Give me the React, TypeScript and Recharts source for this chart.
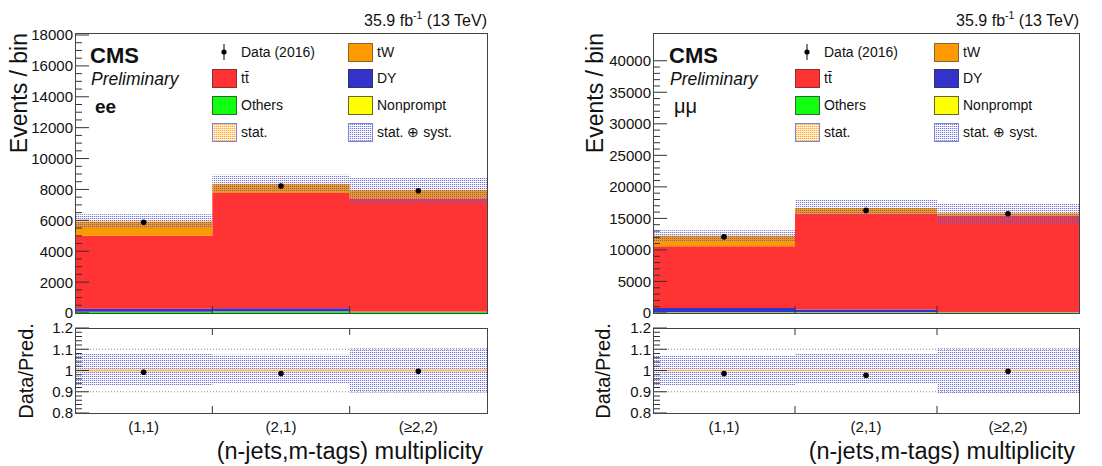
import React from "react";
import { Area, ComposedChart, ErrorBar, ReferenceLine, Scatter, XAxis, YAxis } from "recharts";

const bins = ["(1,1)", "(2,1)", "(≥2,2)"];

// ee channel, events per bin
const eeOthers = [60, 70, 60];
const eeNonprompt = [20, 30, 20];
const eeDY = [200, 200, 20];
const eeTT = [4720, 7470, 7300];
const eeTW = [920, 570, 550];
const eeData = [5870, 8220, 7920];
const eeSystUp = [1.08, 1.074, 1.103];
const eeSystDown = [0.928, 0.938, 0.897];
const eeStat = [0.005, 0.005, 0.005];

// mumu channel
const mmOthers = [80, 80, 80];
const mmNonprompt = [30, 40, 30];
const mmDY = [700, 420, 30];
const mmTT = [9760, 15150, 15260];
const mmTW = [1680, 950, 400];
const mmData = [12070, 16270, 15740];
const mmSystUp = [1.07, 1.079, 1.103];
const mmSystDown = [0.93, 0.938, 0.894];
const mmStat = [0.004, 0.004, 0.004];

const eeYTicks = [0, 2000, 4000, 6000, 8000, 10000, 12000, 14000, 16000, 18000];
const mmYTicks = [0, 5000, 10000, 15000, 20000, 25000, 30000, 35000, 40000];
const ratioTicks = [0.8, 0.9, 1, 1.1, 1.2];

const FONT = "'Liberation Sans', Arial, Helvetica, sans-serif";
const C_TT = "#ff3333";
const C_TW = "#ff9900";
const C_DY = "#3333cc";
const C_OTHERS = "#11ff11";
const C_NP = "#ffff00";

type Channel = {
  others: number[];
  nonprompt: number[];
  dy: number[];
  tt: number[];
  tw: number[];
  data: number[];
  up: number[];
  down: number[];
  stat: number[];
};

const ee: Channel = {
  others: eeOthers, nonprompt: eeNonprompt, dy: eeDY, tt: eeTT, tw: eeTW,
  data: eeData, up: eeSystUp, down: eeSystDown, stat: eeStat,
};
const mm: Channel = {
  others: mmOthers, nonprompt: mmNonprompt, dy: mmDY, tt: mmTT, tw: mmTW,
  data: mmData, up: mmSystUp, down: mmSystDown, stat: mmStat,
};

function total(c: Channel, i: number) {
  return c.others[i] + c.nonprompt[i] + c.dy[i] + c.tt[i] + c.tw[i];
}

// histogram rows: edges 0..3, last edge repeats the last bin for step areas
function buildRows(c: Channel) {
  return [0, 1, 2, 3].map((x) => {
    const i = Math.min(x, 2);
    const tot = total(c, i);
    return {
      x,
      others: c.others[i],
      nonprompt: c.nonprompt[i],
      dy: c.dy[i],
      tt: c.tt[i],
      tw: c.tw[i],
      syst: [tot * c.down[i], tot * c.up[i]],
      stat: [tot * (1 - c.stat[i]), tot * (1 + c.stat[i])],
      rSyst: [c.down[i], c.up[i]],
      rStat: [1 - c.stat[i], 1 + c.stat[i]],
    };
  });
}

function buildPoints(c: Channel) {
  return bins.map((_, i) => {
    const tot = total(c, i);
    return {
      x: i + 0.5,
      y: c.data[i],
      yErr: Math.sqrt(c.data[i]),
      r: c.data[i] / tot,
      rErr: Math.sqrt(c.data[i]) / tot,
    };
  });
}

function range(start: number, stop: number, step: number) {
  const out: number[] = [];
  for (let v = start; v <= stop + step / 1000; v += step) out.push(Math.round(v * 1000) / 1000);
  return out;
}

function yTick(majors: number[], fmt: (v: number) => string) {
  return (props: any) => {
    const { x, y, payload } = props;
    const v = payload.value;
    const major = majors.some((m) => Math.abs(m - v) < 1e-6);
    return (
      <g>
        <line x1={x} x2={x + (major ? 14 : 7)} y1={y} y2={y} stroke="#333" strokeWidth={1} />
        {major && (
          <text x={x - 2} y={y} dy="0.36em" textAnchor="end" fontSize={15} fontFamily={FONT} fill="#111">
            {fmt(v)}
          </text>
        )}
      </g>
    );
  };
}

function xTick(withLabels: boolean, plotHeight: number) {
  return (props: any) => {
    const { x, y, payload } = props;
    const v = payload.value;
    if (Number.isInteger(v)) {
      return (
        <g>
          <line x1={x} x2={x} y1={y} y2={y - 7} stroke="#333" />
          {withLabels && <line x1={x} x2={x} y1={y - plotHeight} y2={y - plotHeight + 7} stroke="#333" />}
        </g>
      );
    }
    if (!withLabels) return <g />;
    return (
      <text x={x} y={y + 19} textAnchor="middle" fontSize={15} fontFamily={FONT} fill="#111">
        {bins[Math.floor(v)]}
      </text>
    );
  };
}

function Patterns({ id }: { id: string }) {
  return (
    <defs>
      <pattern id={`${id}-syst`} width="2" height="2" patternUnits="userSpaceOnUse">
        <rect x="0" y="0" width="1" height="1" fill="#5555d0" fillOpacity={0.8} />
        <rect x="1" y="0" width="1" height="1" fill="#8c8ce0" fillOpacity={0.3} />
      </pattern>
      <pattern id={`${id}-stat`} width="2" height="2" patternUnits="userSpaceOnUse">
        <rect x="0" y="0" width="1" height="1" fill="#ff9900" fillOpacity={0.85} />
        <rect x="1" y="0" width="1" height="1" fill="#ffb84d" fillOpacity={0.5} />
        <rect x="0" y="1" width="2" height="1" fill="#ffd699" fillOpacity={0.35} />
      </pattern>
    </defs>
  );
}

type PanelProps = {
  id: string;
  channel: Channel;
  left: number;
  width: number;
  plotLeft: number;
  plotRight: number;
  yMax: number;
  yMajors: number[];
  yMinorStep: number;
};

function Panel({ id, channel, left, width, plotLeft, plotRight, yMax, yMajors, yMinorStep }: PanelProps) {
  const rows = buildRows(channel);
  const points = buildPoints(channel);
  const right = width - plotRight;
  const yTicks = range(0, yMajors[yMajors.length - 1], yMinorStep);
  const rTicks = range(0.8, 1.2, 0.02);

  return (
    <>
      <div style={{ position: "absolute", left, top: 0 }}>
        <ComposedChart width={width} height={320} data={rows} margin={{ top: 33, right, bottom: 0, left: 0 }}>
          <Patterns id={id} />
          <XAxis
            dataKey="x"
            type="number"
            domain={[0, 3]}
            ticks={[0.5, 1, 1.5, 2, 2.5]}
            interval={0}
            allowDataOverflow
            height={7}
            axisLine={false}
            tickLine={false}
            tickSize={0}
            tickMargin={0}
            tick={xTick(false, 280)}
          />
          <YAxis
            type="number"
            domain={[0, yMax]}
            ticks={yTicks}
            interval={0}
            allowDataOverflow
            width={plotLeft}
            axisLine={false}
            tickLine={false}
            tickSize={0}
            tickMargin={0}
            tick={yTick(yMajors, (v) => String(v))}
          />
          <Area type="stepAfter" dataKey="others" stackId="mc" fill={C_OTHERS} fillOpacity={1} stroke="none" dot={false} activeDot={false} isAnimationActive={false} />
          <Area type="stepAfter" dataKey="nonprompt" stackId="mc" fill={C_NP} fillOpacity={1} stroke="none" dot={false} activeDot={false} isAnimationActive={false} />
          <Area type="stepAfter" dataKey="dy" stackId="mc" fill={C_DY} fillOpacity={1} stroke="none" dot={false} activeDot={false} isAnimationActive={false} />
          <Area type="stepAfter" dataKey="tt" stackId="mc" fill={C_TT} fillOpacity={1} stroke="none" dot={false} activeDot={false} isAnimationActive={false} />
          <Area type="stepAfter" dataKey="tw" stackId="mc" fill={C_TW} fillOpacity={1} stroke="none" dot={false} activeDot={false} isAnimationActive={false} />
          <Area type="stepAfter" dataKey="stat" fill={`url(#${id}-stat)`} fillOpacity={1} stroke="none" dot={false} activeDot={false} isAnimationActive={false} />
          <Area type="stepAfter" dataKey="syst" fill={`url(#${id}-syst)`} fillOpacity={1} stroke="none" dot={false} activeDot={false} isAnimationActive={false} />
          <Scatter
            data={points}
            dataKey="y"
            isAnimationActive={false}
            shape={(p: any) => <circle cx={p.cx} cy={p.cy} r={2.8} fill="#000" />}
          >
            <ErrorBar dataKey="yErr" direction="y" width={0} stroke="#000" strokeWidth={1} />
          </Scatter>
        </ComposedChart>
      </div>
      <div style={{ position: "absolute", left, top: 320 }}>
        <ComposedChart width={width} height={146} data={rows} margin={{ top: 8, right, bottom: 0, left: 0 }}>
          <Patterns id={`${id}r`} />
          <XAxis
            dataKey="x"
            type="number"
            domain={[0, 3]}
            ticks={[0.5, 1, 1.5, 2, 2.5]}
            interval={0}
            allowDataOverflow
            height={53}
            axisLine={false}
            tickLine={false}
            tickSize={0}
            tickMargin={0}
            tick={xTick(true, 85)}
          />
          <YAxis
            type="number"
            domain={[0.8, 1.2]}
            ticks={rTicks}
            interval={0}
            allowDataOverflow
            width={plotLeft}
            axisLine={false}
            tickLine={false}
            tickSize={0}
            tickMargin={0}
            tick={yTick(ratioTicks, (v) => String(Math.round(v * 10) / 10))}
          />
          <ReferenceLine y={1.1} stroke="#888" strokeDasharray="1 2" />
          <ReferenceLine y={0.9} stroke="#888" strokeDasharray="1 2" />
          <Area type="stepAfter" dataKey="rSyst" fill={`url(#${id}r-syst)`} fillOpacity={1} stroke="none" dot={false} activeDot={false} isAnimationActive={false} />
          <Area type="stepAfter" dataKey="rStat" fill="#ffb347" fillOpacity={0.9} stroke="none" dot={false} activeDot={false} isAnimationActive={false} />
          <Scatter
            data={points}
            dataKey="r"
            isAnimationActive={false}
            shape={(p: any) => <circle cx={p.cx} cy={p.cy} r={2.8} fill="#000" />}
          >
            <ErrorBar dataKey="rErr" direction="y" width={0} stroke="#000" strokeWidth={1} />
          </Scatter>
        </ComposedChart>
      </div>
    </>
  );
}

type LegendEntry = { label: string; kind: "data" | "box"; fill: string; stroke: string };

const legendCol1: LegendEntry[] = [
  { label: "Data (2016)", kind: "data", fill: "#000", stroke: "#000" },
  { label: "tt\u0304", kind: "box", fill: C_TT, stroke: "#883333" },
  { label: "Others", kind: "box", fill: C_OTHERS, stroke: "#336633" },
  { label: "stat.", kind: "box", fill: "stat", stroke: "#8080dd" },
];
const legendCol2: LegendEntry[] = [
  { label: "tW", kind: "box", fill: C_TW, stroke: "#886633" },
  { label: "DY", kind: "box", fill: C_DY, stroke: "#333366" },
  { label: "Nonprompt", kind: "box", fill: C_NP, stroke: "#666633" },
  { label: "stat. \u2295 syst.", kind: "box", fill: "syst", stroke: "#8080dd" },
];
const legendRows = [52, 78, 105, 132];

function LegendColumn({ items, boxX, id }: { items: LegendEntry[]; boxX: number; id: string }) {
  return (
    <g>
      {items.map((it, r) => {
        const cy = legendRows[r];
        const fill = it.fill === "stat" || it.fill === "syst" ? `url(#${id}-${it.fill})` : it.fill;
        return (
          <g key={it.label}>
            {it.kind === "data" ? (
              <g>
                <line x1={boxX + 12} x2={boxX + 12} y1={cy - 8} y2={cy + 8} stroke="#000" />
                <circle cx={boxX + 12} cy={cy} r={2.6} fill="#000" />
              </g>
            ) : (
              <rect x={boxX + 0.5} y={cy - 9 + 0.5} width={24} height={18} fill={fill} stroke={it.stroke} strokeWidth={1} />
            )}
            <text x={boxX + 29} y={cy} dy="0.36em" fontSize={14} fontFamily={FONT} fill="#111">
              {it.label}
            </text>
          </g>
        );
      })}
    </g>
  );
}

function Overlay() {
  const panels = [
    { id: "ovl", x0: 75, x1: 487, col1: 212, col2: 348, cms: 90, chan: "ee", yTitle: 27, rTitle: 33 },
    { id: "ovr", x0: 653, x1: 1079, col1: 795, col2: 934, cms: 669, chan: "\u03bc\u03bc", yTitle: 603, rTitle: 610 },
  ];
  return (
    <svg width={1102} height={466} style={{ position: "absolute", left: 0, top: 0, pointerEvents: "none" }}>
      <Patterns id="ovl" />
      <Patterns id="ovr" />
      {panels.map((p) => (
        <g key={p.id} fontFamily={FONT} fill="#111">
          <rect x={p.x0 + 0.5} y={33.5} width={p.x1 - p.x0} height={280} fill="none" stroke="#444" />
          <rect x={p.x0 + 0.5} y={328.5} width={p.x1 - p.x0} height={85} fill="none" stroke="#444" />
          <text x={p.x1} y={26} textAnchor="end" fontSize={16}>
            35.9 fb<tspan fontSize={10.5} dy={-7}>-1</tspan>
            <tspan dy={7}> (13 TeV)</tspan>
          </text>
          <text x={p.cms} y={63} fontSize={22} fontWeight="bold">CMS</text>
          <text x={p.cms + 1} y={85} fontSize={17.5} fontStyle="italic">Preliminary</text>
          <text x={p.cms + 5} y={113} fontSize={p.chan === "ee" ? 19 : 20} fontWeight={p.chan === "ee" ? "bold" : "normal"}>
            {p.chan}
          </text>
          <text transform={`translate(${p.yTitle},33) rotate(-90)`} textAnchor="end" fontSize={23}>
            Events / bin
          </text>
          <text transform={`translate(${p.rTitle},371) rotate(-90)`} textAnchor="middle" fontSize={20}>
            Data/Pred.
          </text>
          <text x={p.x1 - 4} y={459} textAnchor="end" fontSize={23.5}>
            (n-jets,m-tags) multiplicity
          </text>
          <LegendColumn items={legendCol1} boxX={p.col1} id={p.id} />
          <LegendColumn items={legendCol2} boxX={p.col2} id={p.id} />
        </g>
      ))}
    </svg>
  );
}

export default function App() {
  return (
    <div style={{ position: "absolute", left: 0, top: 0, width: 1102, height: 466, background: "#fff", fontFamily: FONT }}>
      <Panel
        id="pl"
        channel={ee}
        left={0}
        width={560}
        plotLeft={75}
        plotRight={487}
        yMax={18130}
        yMajors={eeYTicks}
        yMinorStep={500}
      />
      <Panel
        id="pr"
        channel={mm}
        left={560}
        width={542}
        plotLeft={93}
        plotRight={519}
        yMax={44400}
        yMajors={mmYTicks}
        yMinorStep={1000}
      />
      <Overlay />
    </div>
  );
}
